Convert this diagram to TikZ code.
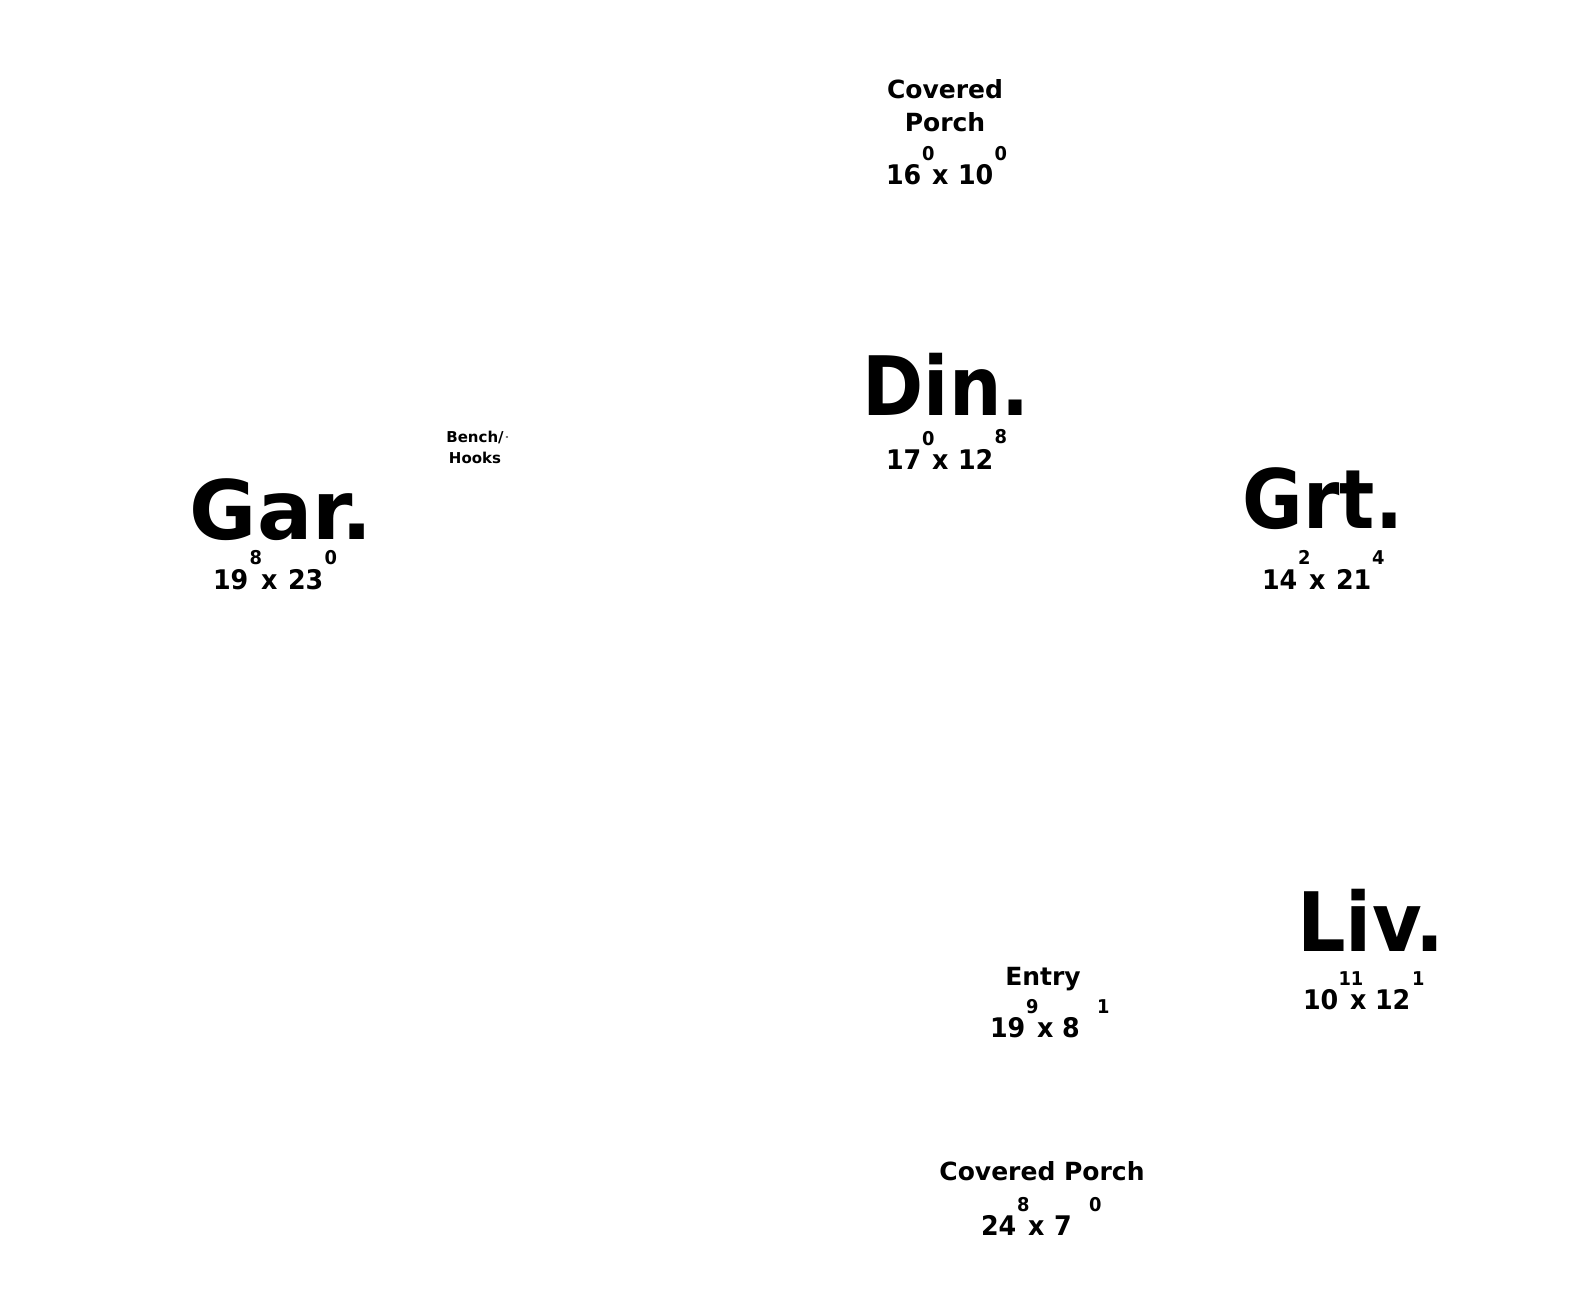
\documentclass[tikz,border=0pt]{standalone}
\usepackage{fontspec}
\setmainfont{DejaVu Sans}
\newfontfamily\dimfont{DejaVu Sans}[FakeStretch=0.94]
\begin{document}
\begin{tikzpicture}[x=1pt,y=-1pt,
  every node/.style={inner sep=0pt, outer sep=0pt, text=black},
  roomname/.style={anchor=base, font=\fontsize{82}{82}\selectfont\bfseries},
  roomlbl/.style={anchor=base, font=\fontsize{25}{25}\selectfont\bfseries},
  dimnum/.style={anchor=base west, font=\fontsize{27}{27}\dimfont\bfseries},
  dimsup/.style={anchor=base west, font=\fontsize{19}{19}\dimfont\bfseries},
  smalllbl/.style={anchor=base, font=\fontsize{15}{15}\selectfont\bfseries}]
\useasboundingbox (0,0) rectangle (1575,1294);

% Covered Porch (top)
\node[roomlbl] (cp1a) at (945,98) {Covered};
\node[roomlbl] (cp1b) at (945,131) {Porch};
\node[dimnum] (cp1w) at (886,184) {16};
\node[dimsup] (cp1ws) at (922,160) {0};
\node[dimnum] (cp1x) at (932,184) {x};
\node[dimnum] (cp1l) at (958,184) {10};
\node[dimsup] (cp1ls) at (994.5,160) {0};

% Din.
\node[roomname] (din) at (946,415) {\scalebox{0.9}[1]{Din.}};
\node[dimnum] (dinw) at (886,469) {17};
\node[dimsup] (dinws) at (922,445) {0};
\node[dimnum] (dinx) at (932,469) {x};
\node[dimnum] (dinl) at (958,469) {12};
\node[dimsup] (dinls) at (994.5,443) {8};

% Bench/Hooks
\node[smalllbl] (bench) at (475,442) {Bench/};
\node[anchor=base west, font=\fontsize{7}{7}\selectfont\bfseries] (benchd) at ([xshift=2pt,yshift=3pt]bench.base east) {-};
\node[smalllbl] (hooks) at (475,463) {Hooks};

% Gar.
\node[roomname] (gar) at (281,539) {Gar.};
\node[dimnum] (garw) at (213,589) {19};
\node[dimsup] (garws) at (249.5,564) {8};
\node[dimnum] (garx) at (261,589) {x};
\node[dimnum] (garl) at (288,589) {23};
\node[dimsup] (garls) at (324.5,564) {0};

% Grt.
\node[roomname] (grt) at (1323,528) {\scalebox{0.9}[1]{Grt.}};
\node[dimnum] (grtw) at (1262,589) {14};
\node[dimsup] (grtws) at (1298,564) {2};
\node[dimnum] (grtx) at (1309,589) {x};
\node[dimnum] (grtl) at (1336,589) {21};
\node[dimsup] (grtls) at (1372,564) {4};

% Liv.
\node[roomname] (liv) at (1371,951) {\scalebox{0.93}[1]{Liv.}};
\node[dimnum] (livw) at (1303,1009) {10};
\node[dimsup] (livws) at (1338.5,985) {11};
\node[dimnum] (livx) at (1350,1009) {x};
\node[dimnum] (livl) at (1375,1009) {12};
\node[dimsup] (livls) at (1412,985) {1};

% Entry
\node[roomlbl] (entry) at (1043,985) {Entry};
\node[dimnum] (entw) at (990,1037) {19};
\node[dimsup] (entws) at (1026,1013) {9};
\node[dimnum] (entx) at (1037,1037) {x};
\node[dimnum] (entl) at (1062,1037) {8};
\node[dimsup] (entls) at (1097,1013) {1};

% Covered Porch (bottom)
\node[roomlbl] (cp2) at (1042,1180) {Covered Porch};
\node[dimnum] (cp2w) at (981,1235) {24};
\node[dimsup] (cp2ws) at (1017,1211) {8};
\node[dimnum] (cp2x) at (1028,1235) {x};
\node[dimnum] (cp2l) at (1054,1235) {7};
\node[dimsup] (cp2ls) at (1089,1211) {0};
\end{tikzpicture}
\end{document}
